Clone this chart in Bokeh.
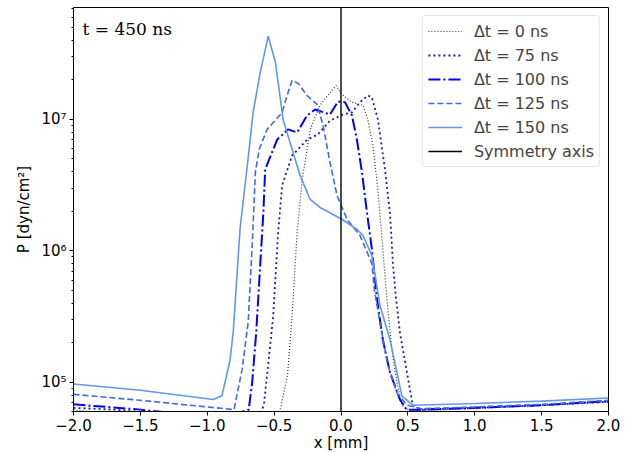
from bokeh.plotting import figure
from bokeh.models import (Legend, LegendItem, Label, FixedTicker,
                          CustomJSTickFormatter, Range1d)
from bokeh.embed import file_html
from bokeh.resources import INLINE

# ---------------- data ----------------
x_dt0 = [-2.0, -1.5, -1.0, -0.6, -0.47, -0.45, -0.40, -0.366, -0.328, -0.29, -0.23, -0.157,
         -0.082, -0.037, 0.007, 0.082, 0.164, 0.20, 0.239, 0.276, 0.313, 0.343, 0.38, 0.418,
         0.455, 0.5, 0.6, 1.0, 1.5, 2.0]
p_dt0 = [6.2e4, 5.4e4, 5.2e4, 5.2e4, 5.5e4, 6.5e4, 1.13e5, 3.2e5, 1.38e6, 3.5e6, 8.4e6, 1.28e7,
         1.6e7, 1.81e7, 1.55e7, 1.35e7, 1.28e7, 1.0e7, 6.3e6, 2.9e6, 1.03e6, 4.3e5, 1.78e5, 1.0e5,
         6.7e4, 6.2e4, 6.1e4, 6.3e4, 6.7e4, 7.1e4]

x_dt75 = [-2.0, -1.7, -1.2, -0.7, -0.6, -0.575, -0.545, -0.507, -0.47, -0.44, -0.366, -0.254,
          -0.172, -0.082, 0.015, 0.082, 0.142, 0.201, 0.231, 0.276, 0.328, 0.366, 0.388, 0.41,
          0.44, 0.493, 0.537, 0.6, 1.0, 1.5, 2.0]
p_dt75 = [6.4e4, 6.2e4, 5.6e4, 5.4e4, 5.6e4, 7.0e4, 1.35e5, 3.2e5, 1.38e6, 3.15e6, 5.3e6, 7.0e6,
          7.7e6, 9.8e6, 1.09e7, 1.13e7, 1.35e7, 1.52e7, 1.47e7, 1.0e7, 4.2e6, 1.96e6, 8.1e5, 4.5e5,
          2.4e5, 1.19e5, 6.7e4, 6.2e4, 6.4e4, 6.7e4, 7.1e4]

x_dt100 = [-2.0, -1.5, -1.3, -0.8, -0.69, -0.664, -0.634, -0.604, -0.58, -0.567, -0.478, -0.396,
           -0.328, -0.254, -0.194, -0.082, -0.022, 0.03, 0.082, 0.119, 0.157, 0.194, 0.231, 0.269,
           0.313, 0.366, 0.44, 0.49, 0.6, 1.0, 1.5, 2.0]
p_dt100 = [6.8e4, 6.2e4, 5.9e4, 5.7e4, 6.2e4, 1.0e5, 2.4e5, 7.8e5, 2.0e6, 4.16e6, 7.0e6, 8.4e6,
           7.95e6, 1.07e7, 1.19e7, 1.09e7, 1.37e7, 1.35e7, 1.07e7, 7.0e6, 3.95e6, 1.96e6, 1.03e6,
           4.3e5, 2.1e5, 1.19e5, 7.4e4, 6.2e4, 6.2e4, 6.4e4, 6.7e4, 7.2e4]

x_dt125 = [-2.0, -1.5, -1.0, -0.8, -0.739, -0.694, -0.664, -0.64, -0.61, -0.552, -0.44, -0.403,
           -0.366, -0.32, -0.254, -0.179, -0.134, -0.082, -0.03, 0.045, 0.142, 0.231, 0.25, 0.291,
           0.351, 0.418, 0.493, 0.6, 1.0, 1.5, 2.0]
p_dt125 = [8.1e4, 7.3e4, 6.5e4, 6.2e4, 1.26e5, 2.86e5, 1.1e6, 4.0e6, 6.0e6, 8.4e6, 1.13e7, 1.52e7,
           1.98e7, 1.88e7, 1.52e7, 1.3e7, 9.0e6, 4.7e6, 2.64e6, 1.74e6, 1.31e6, 8.0e5, 5.0e5, 2.86e5,
           1.35e5, 8.3e4, 6.7e4, 6.3e4, 6.5e4, 6.8e4, 7.3e4]

x_dt150 = [-2.0, -1.9, -1.5, -0.955, -0.89, -0.83, -0.806, -0.754, -0.70, -0.657, -0.604, -0.544,
           -0.49, -0.433, -0.306, -0.231, -0.157, 0.007, 0.119, 0.164, 0.231, 0.291, 0.366, 0.455,
           0.537, 1.0, 1.5, 2.0]
p_dt150 = [9.7e4, 9.5e4, 8.7e4, 7.4e4, 7.9e4, 1.47e5, 2.4e5, 1.5e6, 4.5e6, 1.13e7, 2.28e7, 4.3e7,
           2.7e7, 1.0e7, 3.75e6, 2.46e6, 2.14e6, 1.74e6, 1.46e6, 1.31e6, 9.2e5, 3.86e5, 2.12e5, 7.9e4,
           6.7e4, 6.9e4, 7.2e4, 7.6e4]

sym_x = 0.0

series_labels = ["Δt = 0 ns", "Δt = 75 ns", "Δt = 100 ns", "Δt = 125 ns", "Δt = 150 ns"]
sym_label = "Symmetry axis"
title_text = "t = 450 ns"

x_ticks = [-2.0, -1.5, -1.0, -0.5, 0.0, 0.5, 1.0, 1.5, 2.0]
y_major = [1e5, 1e6, 1e7]
y_minor = [m * d for d in (1e4, 1e5, 1e6, 1e7) for m in range(2, 10)]

x_lo, x_hi = -2.0, 2.0
y_lo, y_hi = 6.0e4, 7.1e7

# ---------------- figure ----------------
p = figure(x_range=Range1d(x_lo, x_hi), y_range=Range1d(y_lo, y_hi), y_axis_type="log",
           frame_width=535, frame_height=404,
           min_border_left=73, min_border_right=20, min_border_top=7, min_border_bottom=34,
           output_backend="svg", toolbar_location=None)
p.xgrid.visible = False
p.ygrid.visible = False
p.outline_line_color = "black"
p.outline_line_width = 1
p.outline_line_alpha = 1.0
p.background_fill_color = "white"
p.border_fill_color = "white"

FONT = "DejaVu Sans"

xa = p.xaxis[0]
xa.ticker = FixedTicker(ticks=x_ticks)
xa.formatter = CustomJSTickFormatter(code="return (tick < 0 ? '\u2212' : '') + Math.abs(tick).toFixed(1);")
xa.axis_label = "x [mm]"
xa.minor_tick_line_color = None
xa.major_tick_out = 4
xa.major_tick_in = 0
xa.major_label_standoff = 3
xa.major_label_text_font = FONT
xa.major_label_text_font_size = "15px"
xa.major_label_text_color = "black"
xa.axis_label_text_font = FONT
xa.axis_label_text_font_size = "15px"
xa.axis_label_text_font_style = "normal"
xa.axis_label_text_color = "black"
xa.axis_label_standoff = 0
xa.axis_line_color = "black"

ya = p.yaxis[0]
ya.ticker = FixedTicker(ticks=y_major, minor_ticks=y_minor)
ya.formatter = CustomJSTickFormatter(code="""
const e = Math.round(Math.log10(tick));
const sup = {'4':'\u2074','5':'\u2075','6':'\u2076','7':'\u2077','8':'\u2078'};
return '10' + sup[String(e)];
""")
ya.axis_label = "P [dyn/cm²]"
ya.major_tick_out = 4
ya.major_tick_in = 0
ya.minor_tick_out = 2
ya.minor_tick_in = 0
ya.major_label_standoff = 3
ya.major_label_text_font = FONT
ya.major_label_text_font_size = "15px"
ya.major_label_text_color = "black"
ya.axis_label_text_font = FONT
ya.axis_label_text_font_size = "15px"
ya.axis_label_text_font_style = "normal"
ya.axis_label_text_color = "black"
ya.axis_label_standoff = 5
ya.axis_line_color = "black"

r0 = p.line(x_dt0, p_dt0, line_color="#333333", line_width=1.2, line_dash="1 2")
r75 = p.line(x_dt75, p_dt75, line_color="#1c1c9c", line_width=1.8, line_dash="2 3")
r100 = p.line(x_dt100, p_dt100, line_color="#0000ff", line_width=2, line_dash="12 3 2 3")
r125 = p.line(x_dt125, p_dt125, line_color="#4169e1", line_width=1.6, line_dash="6 3")
r150 = p.line(x_dt150, p_dt150, line_color="#6495ed", line_width=1.6)
rsym = p.line([sym_x, sym_x], [y_lo / 10, y_hi * 10], line_color="black", line_width=1.4)

legend = Legend(items=[LegendItem(label=series_labels[0], renderers=[r0]),
                       LegendItem(label=series_labels[1], renderers=[r75]),
                       LegendItem(label=series_labels[2], renderers=[r100]),
                       LegendItem(label=series_labels[3], renderers=[r125]),
                       LegendItem(label=series_labels[4], renderers=[r150]),
                       LegendItem(label=sym_label, renderers=[rsym])],
                location="top_right")
legend.label_text_font = FONT
legend.label_text_font_size = "16px"
legend.glyph_width = 34
legend.glyph_height = 20
legend.label_height = 20
legend.spacing = 4
legend.padding = 5
legend.margin = 8
legend.label_standoff = 12
legend.border_line_color = "#cccccc"
legend.border_line_width = 1
legend.background_fill_alpha = 0.9
if "border_radius" in legend.properties():
    legend.border_radius = 4
p.add_layout(legend)

title = Label(x=x_lo, y=4.9e7, x_offset=9, text=title_text, text_font="DejaVu Serif",
              text_font_size="17px", text_baseline="alphabetic", text_color="black")
p.add_layout(title)

open("out.html", "w").write(file_html(p, INLINE))
